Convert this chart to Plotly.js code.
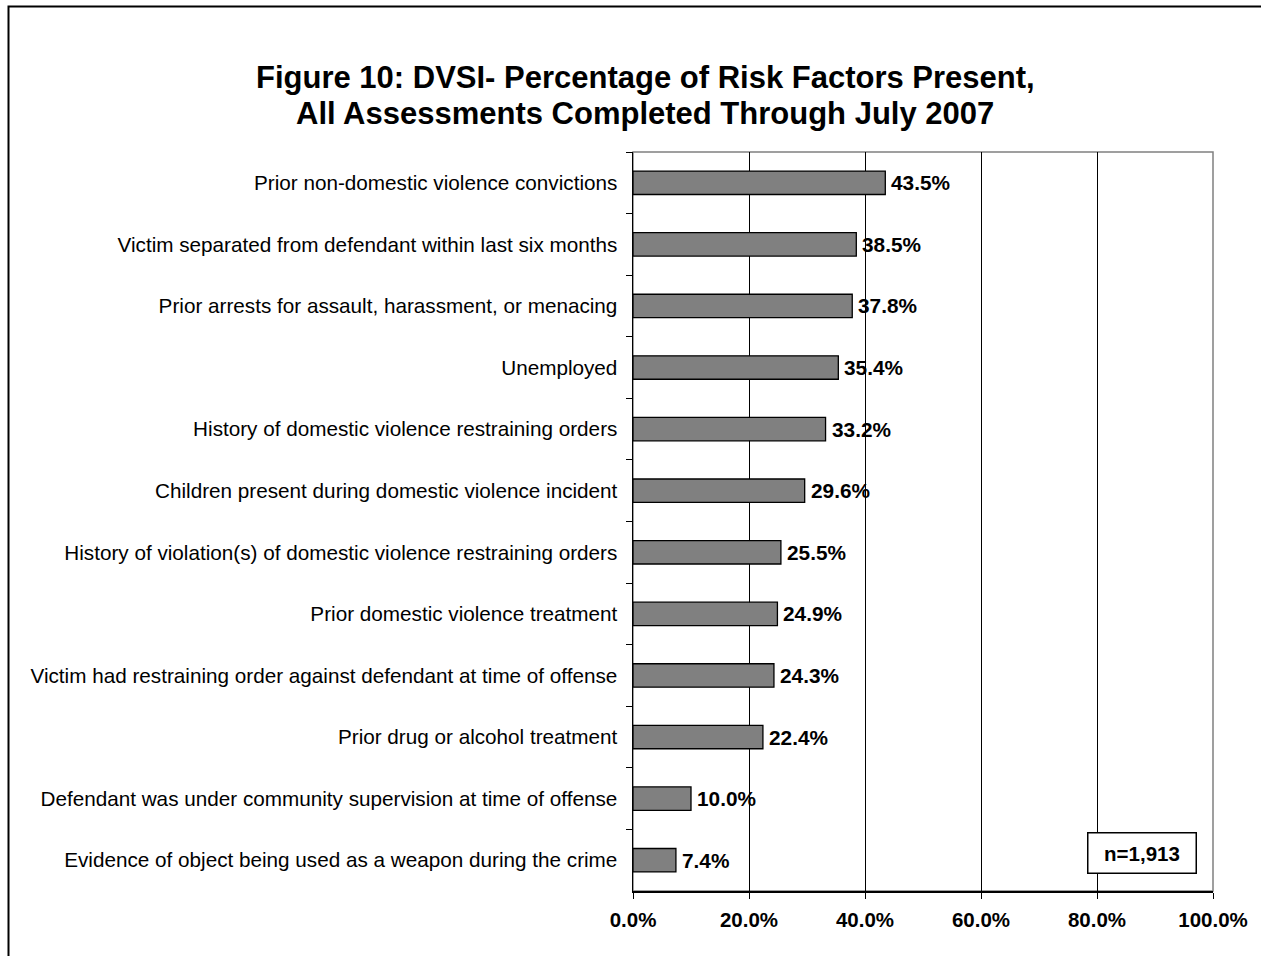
<!DOCTYPE html>
<html>
<head>
<meta charset="utf-8">
<script src="https://cdn.plot.ly/plotly-3.0.1.min.js"></script>
<style>
  html, body { margin: 0; padding: 0; background: #fff; }
  #chart { width: 1261px; height: 956px; }
</style>
</head>
<body>
<div id="chart"></div>
<script>
// Risk factors, listed top to bottom
const riskFactors = [
  "Prior non-domestic violence convictions",
  "Victim separated from defendant within last six months",
  "Prior arrests for assault, harassment, or menacing",
  "Unemployed",
  "History of domestic violence restraining orders",
  "Children present during domestic violence incident",
  "History of violation(s) of domestic violence restraining orders",
  "Prior domestic violence treatment",
  "Victim had restraining order against defendant at time of offense",
  "Prior drug or alcohol treatment",
  "Defendant was under community supervision at time of offense",
  "Evidence of object being used as a weapon during the crime"
];

// Percentage of assessments where each factor was present
const percentPresent = [43.5, 38.5, 37.8, 35.4, 33.2, 29.6, 25.5, 24.9, 24.3, 22.4, 10.0, 7.4];

const xTickValues = [0, 20, 40, 60, 80, 100];
const titleLines = [
  "Figure 10: DVSI- Percentage of Risk Factors Present,",
  "All Assessments Completed Through July 2007"
];
const sampleNote = "n=1,913";

const FONT = "Arial, 'Liberation Sans', sans-serif";
const pct = v => v.toFixed(1) + "%";

// plot area geometry in pixels (used for placing paper-referenced items)
const PLOT_L = 633, PLOT_R = 1213, PLOT_T = 152, PLOT_B = 891;
const pxToPaperX = px => (px - PLOT_L) / (PLOT_R - PLOT_L);
const pxToPaperY = py => (PLOT_B - py) / (PLOT_B - PLOT_T);

const trace = {
  type: "bar",
  orientation: "h",
  x: percentPresent,
  y: riskFactors,
  marker: { color: "#808080", line: { color: "#000000", width: 1.3 } },
  hoverinfo: "skip"
};

// value labels just past the end of each bar
const valueLabels = percentPresent.map((v, i) => ({
  x: v, y: riskFactors[i], xref: "x", yref: "y",
  text: pct(v), showarrow: false,
  xanchor: "left", yanchor: "middle", xshift: 4,
  font: { family: FONT, size: 20.8, color: "#000000", weight: "bold" }
}));

const titleAnnotations = titleLines.map((t, i) => ({
  text: t, xref: "paper", yref: "paper",
  x: pxToPaperX(645), y: pxToPaperY(78 + i * 35),
  xanchor: "center", yanchor: "middle", showarrow: false,
  font: { family: FONT, size: 31, color: "#000000", weight: "bold" }
}));

const layout = {
  width: 1261,
  height: 956,
  margin: { l: PLOT_L, r: 1261 - PLOT_R, t: PLOT_T, b: 956 - PLOT_B },
  paper_bgcolor: "#ffffff",
  plot_bgcolor: "#ffffff",
  showlegend: false,
  bargap: 0.62,
  font: { family: FONT, color: "#000000" },
  xaxis: {
    range: [0, 100],
    tickvals: xTickValues,
    ticktext: xTickValues.map(pct),
    ticks: "outside",
    ticklen: 6,
    tickcolor: "#000000",
    tickfont: { family: FONT, size: 20.5, color: "#000000", weight: "bold" },
    ticklabelstandoff: 4,
    showgrid: true,
    gridcolor: "#000000",
    gridwidth: 1,
    showline: true,
    linecolor: "#000000",
    linewidth: 1.5,
    zeroline: false,
    fixedrange: true
  },
  yaxis: {
    type: "category",
    autorange: "reversed",
    ticks: "outside",
    tickson: "boundaries",
    ticklen: 6,
    tickcolor: "#000000",
    tickfont: { family: FONT, size: 20.7, color: "#000000" },
    ticklabelstandoff: 10,
    showgrid: false,
    showline: true,
    linecolor: "#000000",
    linewidth: 1.5,
    zeroline: false,
    fixedrange: true
  },
  shapes: [
    // gray frame on the plot area (top and right edges show)
    { type: "rect", xref: "paper", yref: "paper", x0: 0, x1: 1, y0: 0, y1: 1,
      line: { color: "#808080", width: 1.5 }, layer: "below" },
    // outer chart frame
    { type: "rect", xref: "paper", yref: "paper",
      x0: pxToPaperX(8.5), x1: 1.3, y0: -0.3, y1: pxToPaperY(6.5),
      line: { color: "#000000", width: 2 }, layer: "below" }
  ],
  annotations: titleAnnotations.concat(valueLabels, [
    {
      text: sampleNote,
      xref: "paper", yref: "paper",
      x: pxToPaperX(1141.5), y: pxToPaperY(852.5),
      xanchor: "center", yanchor: "middle",
      showarrow: false,
      font: { family: FONT, size: 20.5, color: "#000000", weight: "bold" },
      bgcolor: "#ffffff",
      bordercolor: "#000000",
      borderwidth: 1.5,
      width: 105,
      height: 37
    }
  ])
};

Plotly.newPlot("chart", [trace], layout, { displayModeBar: false, staticPlot: true });
</script>
</body>
</html>
